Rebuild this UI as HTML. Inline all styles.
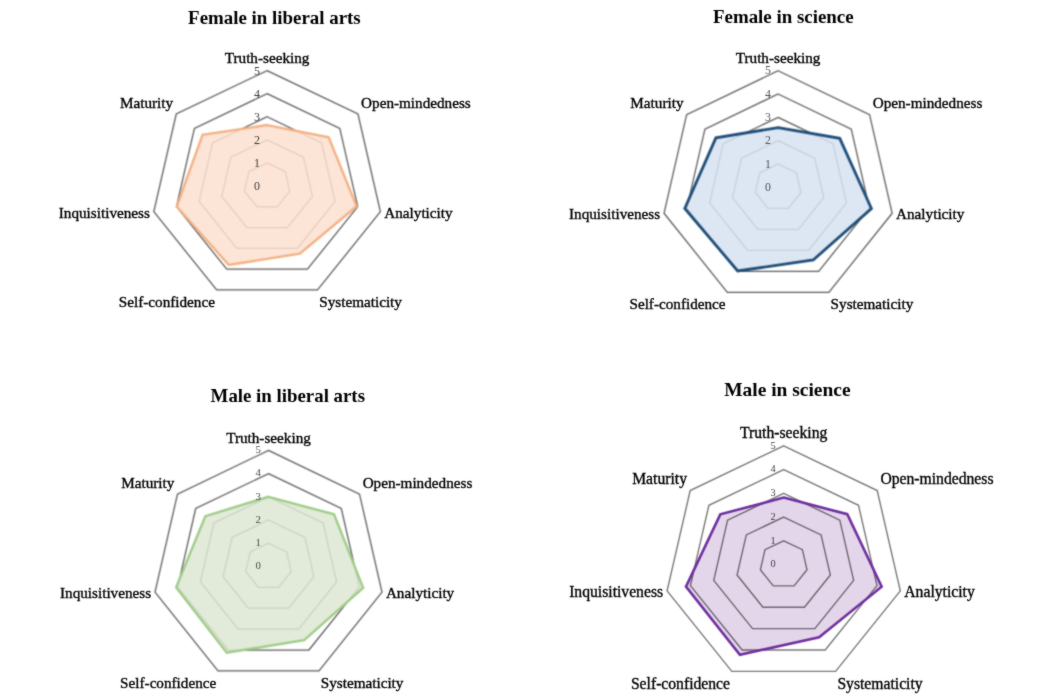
<!DOCTYPE html>
<html><head><meta charset="utf-8"><title>Radar charts</title><style>
html,body{margin:0;padding:0;background:#fff;overflow:hidden;}
svg{display:block;font-family:"Liberation Serif",serif;}
</style></head><body>
<svg width="1049" height="698" viewBox="0 0 1049 698">
<defs>
<filter id="f0" filterUnits="userSpaceOnUse" x="0" y="0" width="1049" height="698" color-interpolation-filters="sRGB"><feConvolveMatrix order="3" kernelMatrix="1 2 1 2 6 2 1 2 1" edgeMode="none"/></filter>
<filter id="f1" filterUnits="userSpaceOnUse" x="0" y="0" width="1049" height="698" color-interpolation-filters="sRGB"><feConvolveMatrix order="3" kernelMatrix="1 2 1 2 6 2 1 2 1" edgeMode="none"/></filter>
<filter id="f2" filterUnits="userSpaceOnUse" x="0" y="0" width="1049" height="698" color-interpolation-filters="sRGB"><feConvolveMatrix order="3" kernelMatrix="1 2 1 2 6 2 1 2 1" edgeMode="none"/></filter>
<filter id="f3" filterUnits="userSpaceOnUse" x="0" y="0" width="1049" height="698" color-interpolation-filters="sRGB"><feConvolveMatrix order="3" kernelMatrix="1 2 1 2 12 2 1 2 1" edgeMode="none"/></filter>
<filter id="ft" filterUnits="userSpaceOnUse" x="0" y="0" width="1049" height="698" color-interpolation-filters="sRGB"><feConvolveMatrix order="3" kernelMatrix="1 2 1 2 20 2 1 2 1" edgeMode="none"/></filter>
</defs>
<rect width="1049" height="698" fill="#fff"/>
<g filter="url(#f0)">
<polygon points="267.10,162.92 285.27,171.61 289.76,191.14 277.18,206.79 257.02,206.79 244.44,191.14 248.93,171.61" fill="none" stroke="#5a5a5a" stroke-width="1.25"/>
<polygon points="267.10,139.84 303.44,157.22 312.41,196.27 287.27,227.59 246.93,227.59 221.79,196.27 230.76,157.22" fill="none" stroke="#5a5a5a" stroke-width="1.25"/>
<polygon points="267.10,116.76 321.61,142.83 335.07,201.41 297.35,248.38 236.85,248.38 199.13,201.41 212.59,142.83" fill="none" stroke="#5a5a5a" stroke-width="1.25"/>
<polygon points="267.10,93.68 339.78,128.44 357.73,206.54 307.43,269.18 226.77,269.18 176.47,206.54 194.42,128.44" fill="none" stroke="#5a5a5a" stroke-width="1.25"/>
<polygon points="267.10,70.60 357.95,114.05 380.39,211.68 317.52,289.97 216.68,289.97 153.81,211.68 176.25,114.05" fill="none" stroke="#5a5a5a" stroke-width="1.25"/>
<polygon points="267.10,125.07 328.70,137.22 356.60,206.29 299.87,253.58 228.78,265.02 176.70,206.49 202.60,134.91" fill="rgb(252,224,208)" fill-opacity="0.86"/>
<polygon points="267.10,125.07 328.70,137.22 356.60,206.29 299.87,253.58 228.78,265.02 176.70,206.49 202.60,134.91" fill="none" stroke="#F4B183" stroke-width="2.4"/>
</g>
<g filter="url(#f1)">
<polygon points="778.10,163.98 796.39,172.76 800.91,192.49 788.25,208.31 767.95,208.31 755.29,192.49 759.81,172.76" fill="none" stroke="#5a5a5a" stroke-width="1.25"/>
<polygon points="778.10,140.66 814.69,158.22 823.73,197.68 798.41,229.32 757.79,229.32 732.47,197.68 741.51,158.22" fill="none" stroke="#5a5a5a" stroke-width="1.25"/>
<polygon points="778.10,117.34 832.98,143.68 846.54,202.87 808.56,250.33 747.64,250.33 709.66,202.87 723.22,143.68" fill="none" stroke="#5a5a5a" stroke-width="1.25"/>
<polygon points="778.10,94.02 851.28,129.14 869.35,208.06 818.71,271.34 737.49,271.34 686.85,208.06 704.92,129.14" fill="none" stroke="#5a5a5a" stroke-width="1.25"/>
<polygon points="778.10,70.70 869.57,114.60 892.17,213.25 828.86,292.35 727.34,292.35 664.03,213.25 686.63,114.60" fill="none" stroke="#5a5a5a" stroke-width="1.25"/>
<polygon points="778.10,127.60 839.75,138.30 871.41,208.52 813.23,260.00 737.69,270.92 684.79,208.52 715.90,137.86" fill="rgb(215,226,241)" fill-opacity="0.86"/>
<polygon points="778.10,127.60 839.75,138.30 871.41,208.52 813.23,260.00 737.69,270.92 684.79,208.52 715.90,137.86" fill="none" stroke="#1F4E79" stroke-width="2.8"/>
</g>
<g filter="url(#f2)">
<polygon points="268.50,543.20 286.70,551.94 291.20,571.56 278.60,587.30 258.40,587.30 245.80,571.56 250.30,551.94" fill="none" stroke="#5a5a5a" stroke-width="1.25"/>
<polygon points="268.50,520.00 304.90,537.47 313.89,576.72 288.70,608.20 248.30,608.20 223.11,576.72 232.10,537.47" fill="none" stroke="#5a5a5a" stroke-width="1.25"/>
<polygon points="268.50,496.80 323.10,523.01 336.59,581.89 298.80,629.11 238.20,629.11 200.41,581.89 213.90,523.01" fill="none" stroke="#5a5a5a" stroke-width="1.25"/>
<polygon points="268.50,473.60 341.30,508.54 359.29,587.05 308.90,650.01 228.10,650.01 177.71,587.05 195.70,508.54" fill="none" stroke="#5a5a5a" stroke-width="1.25"/>
<polygon points="268.50,450.40 359.51,494.08 381.98,592.21 319.00,670.91 218.00,670.91 155.02,592.21 177.49,494.08" fill="none" stroke="#5a5a5a" stroke-width="1.25"/>
<polygon points="268.50,496.80 334.02,514.33 363.14,587.93 304.16,640.19 226.78,652.73 176.13,587.41 205.34,516.21" fill="rgb(221,231,210)" fill-opacity="0.85"/>
<polygon points="268.50,496.80 334.02,514.33 363.14,587.93 304.16,640.19 226.78,652.73 176.13,587.41 205.34,516.21" fill="none" stroke="#A0CC88" stroke-width="2.4"/>
</g>
<g filter="url(#f3)">
<polygon points="783.70,540.78 802.40,549.71 807.02,569.78 794.08,585.87 773.32,585.87 760.38,569.78 765.00,549.71" fill="none" stroke="#7a7a7a" stroke-width="1.4"/>
<polygon points="783.70,517.06 821.10,534.92 830.34,575.06 804.46,607.24 762.94,607.24 737.06,575.06 746.30,534.92" fill="none" stroke="#7a7a7a" stroke-width="1.4"/>
<polygon points="783.70,493.34 839.80,520.13 853.66,580.33 814.84,628.61 752.56,628.61 713.74,580.33 727.60,520.13" fill="none" stroke="#7a7a7a" stroke-width="1.4"/>
<polygon points="783.70,469.62 858.51,505.34 876.98,585.61 825.21,649.98 742.19,649.98 690.42,585.61 708.89,505.34" fill="none" stroke="#7a7a7a" stroke-width="1.4"/>
<polygon points="783.70,445.90 877.21,490.55 900.30,590.89 835.59,671.35 731.81,671.35 667.10,590.89 690.19,490.55" fill="none" stroke="#7a7a7a" stroke-width="1.4"/>
<polygon points="783.70,497.61 847.28,514.22 881.65,586.67 819.09,637.38 739.90,654.69 685.99,586.62 720.30,514.36" fill="rgb(227,214,234)" style="mix-blend-mode:multiply"/>
<polygon points="783.70,497.61 847.28,514.22 881.65,586.67 819.09,637.38 739.90,654.69 685.99,586.62 720.30,514.36" fill="none" stroke="#7030A0" stroke-width="2.6"/>
</g>
<g filter="url(#ft)" font-family="Liberation Serif, serif">
<text x="256.90" y="190.00" font-size="12" fill="#404040" text-anchor="middle">0</text>
<text x="256.90" y="166.92" font-size="12" fill="#404040" text-anchor="middle">1</text>
<text x="256.90" y="143.84" font-size="12" fill="#404040" text-anchor="middle">2</text>
<text x="256.90" y="120.76" font-size="12" fill="#404040" text-anchor="middle">3</text>
<text x="256.90" y="97.68" font-size="12" fill="#404040" text-anchor="middle">4</text>
<text x="256.90" y="74.60" font-size="12" fill="#404040" text-anchor="middle">5</text>
<text x="267.10" y="62.80" font-size="15.20" fill="#000" stroke="#000" stroke-width="0.35" text-anchor="middle">Truth-seeking</text>
<text x="361.08" y="107.76" font-size="15.20" fill="#000" stroke="#000" stroke-width="0.35" text-anchor="start">Open-mindedness</text>
<text x="384.29" y="217.67" font-size="15.20" fill="#000" stroke="#000" stroke-width="0.35" text-anchor="start">Analyticity</text>
<text x="319.25" y="306.78" font-size="15.20" fill="#000" stroke="#000" stroke-width="0.35" text-anchor="start">Systematicity</text>
<text x="214.95" y="306.78" font-size="15.20" fill="#000" stroke="#000" stroke-width="0.35" text-anchor="end">Self-confidence</text>
<text x="149.91" y="217.67" font-size="15.20" fill="#000" stroke="#000" stroke-width="0.35" text-anchor="end">Inquisitiveness</text>
<text x="173.12" y="107.76" font-size="15.20" fill="#000" stroke="#000" stroke-width="0.35" text-anchor="end">Maturity</text>
<text x="274.4" y="23.8" font-size="18.9" font-weight="bold" fill="#000" text-anchor="middle">Female in liberal arts</text>
<text x="767.90" y="190.90" font-size="11.8" fill="#555555" text-anchor="middle">0</text>
<text x="767.90" y="167.58" font-size="11.8" fill="#555555" text-anchor="middle">1</text>
<text x="767.90" y="144.26" font-size="11.8" fill="#555555" text-anchor="middle">2</text>
<text x="767.90" y="120.94" font-size="11.8" fill="#555555" text-anchor="middle">3</text>
<text x="767.90" y="97.62" font-size="11.8" fill="#555555" text-anchor="middle">4</text>
<text x="767.90" y="74.30" font-size="11.8" fill="#555555" text-anchor="middle">5</text>
<text x="778.10" y="62.90" font-size="15.20" fill="#000" stroke="#000" stroke-width="0.35" text-anchor="middle">Truth-seeking</text>
<text x="872.70" y="108.31" font-size="15.20" fill="#000" stroke="#000" stroke-width="0.35" text-anchor="start">Open-mindedness</text>
<text x="896.07" y="219.24" font-size="15.20" fill="#000" stroke="#000" stroke-width="0.35" text-anchor="start">Analyticity</text>
<text x="830.60" y="309.16" font-size="15.20" fill="#000" stroke="#000" stroke-width="0.35" text-anchor="start">Systematicity</text>
<text x="725.60" y="309.16" font-size="15.20" fill="#000" stroke="#000" stroke-width="0.35" text-anchor="end">Self-confidence</text>
<text x="660.13" y="219.24" font-size="15.20" fill="#000" stroke="#000" stroke-width="0.35" text-anchor="end">Inquisitiveness</text>
<text x="683.50" y="108.31" font-size="15.20" fill="#000" stroke="#000" stroke-width="0.35" text-anchor="end">Maturity</text>
<text x="783.3" y="22.5" font-size="18.9" font-weight="bold" fill="#000" text-anchor="middle">Female in science</text>
<text x="258.30" y="569.15" font-size="10.8" fill="#4a4a4a" text-anchor="middle">0</text>
<text x="258.30" y="545.95" font-size="10.8" fill="#4a4a4a" text-anchor="middle">1</text>
<text x="258.30" y="522.75" font-size="10.8" fill="#4a4a4a" text-anchor="middle">2</text>
<text x="258.30" y="499.55" font-size="10.8" fill="#4a4a4a" text-anchor="middle">3</text>
<text x="258.30" y="476.35" font-size="10.8" fill="#4a4a4a" text-anchor="middle">4</text>
<text x="258.30" y="453.15" font-size="10.8" fill="#4a4a4a" text-anchor="middle">5</text>
<text x="268.50" y="442.60" font-size="15.20" fill="#000" stroke="#000" stroke-width="0.35" text-anchor="middle">Truth-seeking</text>
<text x="362.63" y="487.78" font-size="15.20" fill="#000" stroke="#000" stroke-width="0.35" text-anchor="start">Open-mindedness</text>
<text x="385.88" y="598.20" font-size="15.20" fill="#000" stroke="#000" stroke-width="0.35" text-anchor="start">Analyticity</text>
<text x="320.74" y="687.72" font-size="15.20" fill="#000" stroke="#000" stroke-width="0.35" text-anchor="start">Systematicity</text>
<text x="216.26" y="687.72" font-size="15.20" fill="#000" stroke="#000" stroke-width="0.35" text-anchor="end">Self-confidence</text>
<text x="151.12" y="598.20" font-size="15.20" fill="#000" stroke="#000" stroke-width="0.35" text-anchor="end">Inquisitiveness</text>
<text x="174.37" y="487.78" font-size="15.20" fill="#000" stroke="#000" stroke-width="0.35" text-anchor="end">Maturity</text>
<text x="287.8" y="401.7" font-size="18.85" font-weight="bold" fill="#000" text-anchor="middle">Male in liberal arts</text>
<text x="773.19" y="567.30" font-size="10.3" fill="#404040" text-anchor="middle">0</text>
<text x="773.19" y="543.58" font-size="10.3" fill="#404040" text-anchor="middle">1</text>
<text x="773.19" y="519.86" font-size="10.3" fill="#404040" text-anchor="middle">2</text>
<text x="773.19" y="496.14" font-size="10.3" fill="#404040" text-anchor="middle">3</text>
<text x="773.19" y="472.42" font-size="10.3" fill="#404040" text-anchor="middle">4</text>
<text x="773.19" y="448.70" font-size="10.3" fill="#404040" text-anchor="middle">5</text>
<text x="783.70" y="437.87" font-size="15.66" fill="#000" stroke="#000" stroke-width="0.35" text-anchor="middle">Truth-seeking</text>
<text x="880.43" y="484.07" font-size="15.66" fill="#000" stroke="#000" stroke-width="0.35" text-anchor="start">Open-mindedness</text>
<text x="904.32" y="597.06" font-size="15.66" fill="#000" stroke="#000" stroke-width="0.35" text-anchor="start">Analyticity</text>
<text x="837.38" y="688.66" font-size="15.66" fill="#000" stroke="#000" stroke-width="0.35" text-anchor="start">Systematicity</text>
<text x="730.02" y="688.66" font-size="15.66" fill="#000" stroke="#000" stroke-width="0.35" text-anchor="end">Self-confidence</text>
<text x="663.08" y="597.06" font-size="15.66" fill="#000" stroke="#000" stroke-width="0.35" text-anchor="end">Inquisitiveness</text>
<text x="686.97" y="484.07" font-size="15.66" fill="#000" stroke="#000" stroke-width="0.35" text-anchor="end">Maturity</text>
<text x="787.4" y="395.7" font-size="19.45" font-weight="bold" fill="#000" text-anchor="middle">Male in science</text>
</g>
</svg>
</body></html>
